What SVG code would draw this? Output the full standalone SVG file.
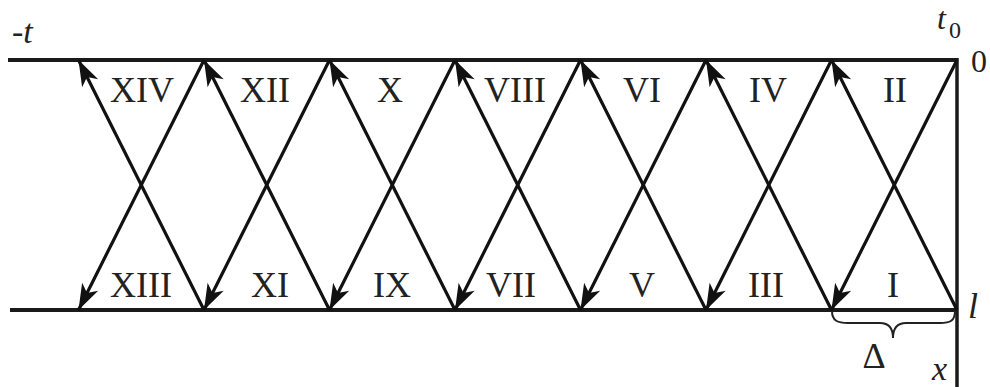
<svg xmlns="http://www.w3.org/2000/svg" width="990" height="387" viewBox="0 0 990 387">
<style>
.ax{stroke:#1a1a1a;stroke-width:4;fill:none}
.dg{stroke:#111;stroke-width:3.2;fill:none;marker-end:url(#ah)}
.lb{font-family:"Liberation Serif","Times New Roman",serif;font-size:36px;fill:#222;text-anchor:middle}
.it{font-family:"Liberation Serif","DejaVu Serif","Times New Roman",serif;font-style:italic;fill:#222}
.up{font-family:"Liberation Serif","Times New Roman",serif;fill:#222}
</style>
<defs>
<marker id="ah" markerUnits="userSpaceOnUse" markerWidth="34" markerHeight="34" viewBox="-30 -12 34 24" refX="0" refY="0" orient="auto">
<path d="M0,0 L-26,-9 L-19,0 L-26,9 Z" fill="#111"/>
</marker>
</defs>
<rect width="990" height="387" fill="#fff"/>
<g id="axes">
<line class="ax" x1="8" y1="60" x2="958" y2="60"/>
<line class="ax" x1="10" y1="310" x2="958" y2="310"/>
<line class="ax" x1="957" y1="58" x2="957" y2="387" style="stroke-width:3.5"/>
<path d="M832,311 C832,321 838,323 848,323 L880,323 C889,323 893,328 893,338 C893,328 897,323 906,323 L940,323 C950,323 955,321 955,311" fill="none" stroke="#222" stroke-width="2"/>
</g>
<g id="connectors">
<line class="dg" x1="957" y1="60" x2="831.5" y2="310"/>
<line class="dg" x1="831.5" y1="60" x2="706" y2="310"/>
<line class="dg" x1="706" y1="60" x2="580.5" y2="310"/>
<line class="dg" x1="580.5" y1="60" x2="455" y2="310"/>
<line class="dg" x1="455" y1="60" x2="329.5" y2="310"/>
<line class="dg" x1="329.5" y1="60" x2="204" y2="310"/>
<line class="dg" x1="204" y1="60" x2="78.5" y2="310"/>
<line class="dg" x1="957" y1="310" x2="831.5" y2="60"/>
<line class="dg" x1="831.5" y1="310" x2="706" y2="60"/>
<line class="dg" x1="706" y1="310" x2="580.5" y2="60"/>
<line class="dg" x1="580.5" y1="310" x2="455" y2="60"/>
<line class="dg" x1="455" y1="310" x2="329.5" y2="60"/>
<line class="dg" x1="329.5" y1="310" x2="204" y2="60"/>
<line class="dg" x1="204" y1="310" x2="78.5" y2="60"/>
</g>
<g id="n1"><text class="lb" x="893" y="297">I</text></g>
<g id="n2"><text class="lb" x="895" y="102">II</text></g>
<g id="n3"><text class="lb" x="766" y="297">III</text></g>
<g id="n4"><text class="lb" x="768" y="102">IV</text></g>
<g id="n5"><text class="lb" x="642" y="297">V</text></g>
<g id="n6"><text class="lb" x="642" y="102">VI</text></g>
<g id="n7"><text class="lb" x="511" y="297">VII</text></g>
<g id="n8"><text class="lb" x="515" y="102">VIII</text></g>
<g id="n9"><text class="lb" x="392" y="297">IX</text></g>
<g id="n10"><text class="lb" x="390" y="102">X</text></g>
<g id="n11"><text class="lb" x="270" y="297">XI</text></g>
<g id="n12"><text class="lb" x="265" y="102">XII</text></g>
<g id="n13"><text class="lb" x="141" y="297">XIII</text></g>
<g id="n14"><text class="lb" x="142" y="102">XIV</text></g>
<g id="axis-labels">
<text class="it" x="12" y="43" font-size="34">-t</text>
<text class="it" x="937" y="29" font-size="32">t</text>
<text class="up" x="949" y="38" font-size="24">0</text>
<text class="up" x="971" y="72" font-size="32">0</text>
<text class="it" x="968" y="318" font-size="36">l</text>
<text class="up" x="874" y="368" font-size="36" text-anchor="middle">Δ</text>
<text class="it" x="932" y="380" font-size="34">x</text>
</g>
</svg>
